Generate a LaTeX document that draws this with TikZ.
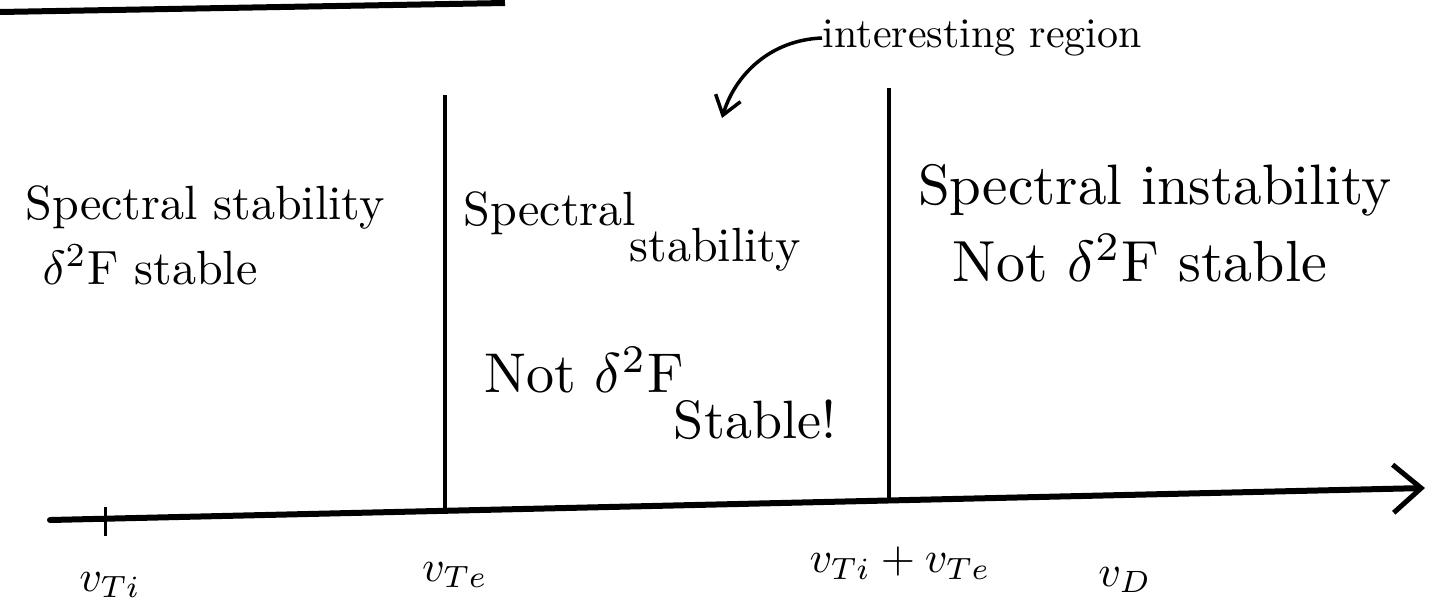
\documentclass[tikz,border=0pt]{standalone}
\usetikzlibrary{arrows.meta}
\begin{document}
\begin{tikzpicture}[x=1pt,y=-1pt,
  lbl/.style={inner sep=0pt, font=\normalsize, scale=4.8},
  small/.style={inner sep=0pt, font=\normalsize, scale=4.2},
  ticklbl/.style={inner sep=0pt, font=\normalsize, scale=4.4},
  axisline/.style={line width=6pt, line cap=round},
  divider/.style={line width=4pt},
  pointer/.style={line width=3.5pt, -{Straight Barb[length=18pt,width=26pt,line width=3.5pt]}}]
\useasboundingbox (0,0) rectangle (1437,613);
% top rule
\coordinate (r0) at (0,12);
\coordinate (r1) at (505,3);
\draw[line width=6pt] (r0) -- (r1);
% axis
\coordinate (a0) at (50,520);
\coordinate (a1) at (1425,488);
\draw[axisline, -{Straight Barb[length=28pt,width=48pt,line width=5pt]}] (a0) -- (a1);
% tick and dividers
\coordinate (k0) at (105,507);
\coordinate (k1) at (105,536);
\draw[line width=3pt] (k0) -- (k1);
\coordinate (d1t) at (445,95);
\coordinate (d1b) at (445,511);
\draw[divider] (d1t) -- (d1b);
\coordinate (d2t) at (889,88);
\coordinate (d2b) at (889,500);
\draw[divider] (d2t) -- (d2b);
% region texts
\node[lbl] (t1a) at (205,207) {Spectral stability};
\node[lbl] (t1b) at (150,265) {$\delta^2$F stable};
\node[lbl] (t2a) at (550,213) {Spectral};
\node[lbl] (t2b) at (715,250) {stability};
\node[lbl, scale=5.6/4.8] (t2c) at (584,370) {Not $\delta^2$F};
\node[lbl, scale=5.4/4.8] (t2d) at (755,420) {Stable!};
\node[lbl, scale=5.7/4.8] (t3a) at (1155,190) {Spectral instability};
\node[lbl, scale=5.8/4.8] (t3b) at (1140,258) {Not $\delta^2$F stable};
% annotation
\node[small, anchor=west] (int) at (822,38) {interesting region};
\coordinate (tip) at (722,118);
\draw[pointer] (int.west) .. controls (770,40) and (735,75) .. (tip);
% axis labels
\node[ticklbl] (l1) at (110,585) {$v_{Ti}$};
\node[ticklbl] (l2) at (455,575) {$v_{Te}$};
\node[ticklbl] (l3) at (900,563) {$v_{Ti}+v_{Te}$};
\node[ticklbl] (l4) at (1125,580) {$v_D$};
\end{tikzpicture}
\end{document}
